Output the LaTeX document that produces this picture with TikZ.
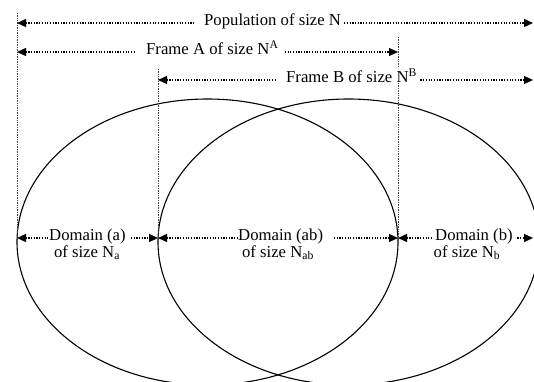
\documentclass[tikz,border=0pt]{standalone}
\usepackage{fontspec}
\setmainfont{Liberation Serif}
\usetikzlibrary{arrows.meta}
\newcommand\diagfont{\fontsize{16.7}{20}\selectfont}
\tikzset{
  darr/.style={line width=1.3pt, dash pattern=on 1.2pt off 1.5pt,
    {Triangle[length=9pt,width=8pt]}-{Triangle[length=9pt,width=8pt]}},
  vline/.style={line width=0.8pt, dash pattern=on 0.8pt off 0.9pt, black!75},
  lbl/.style={fill=white, inner xsep=0pt, inner ysep=1pt, font=\diagfont, anchor=mid west},
  sub/.style={inner sep=0pt, font=\diagfont, anchor=base},
  oval/.style={line width=1.1pt}
}
\begin{document}
\begin{tikzpicture}[x=1pt,y=-1pt]
\useasboundingbox (0,0) rectangle (534,381);
\clip (0,0) rectangle (534,381);
% ellipses
\draw[oval] (207.5,242) ellipse [x radius=190.5pt, y radius=143pt];
\draw[oval] (348.5,242) ellipse [x radius=190.5pt, y radius=143pt];
% coordinates
\coordinate (v1t) at (17,13);   \coordinate (v1b) at (17,240);
\coordinate (v2t) at (398,37);  \coordinate (v2b) at (398,240);
\coordinate (v3t) at (158,69);  \coordinate (v3b) at (158,240);
\coordinate (pL) at (17,23);  \coordinate (pR) at (533,23);
\coordinate (aL) at (17,52);  \coordinate (aR) at (398,52);
\coordinate (bL) at (158,80); \coordinate (bR) at (533,80);
\coordinate (d1) at (17,238); \coordinate (d2) at (158,238);
\coordinate (d3) at (398,238); \coordinate (d4) at (533,238);
% vertical guides
\draw[vline] (v1t) -- (v1b);
\draw[vline] (v2t) -- (v2b);
\draw[vline] (v3t) -- (v3b);
% arrows
\draw[darr] (pL) -- (pR);
\draw[darr] (aL) -- (aR);
\draw[darr] (bL) -- (bR);
\draw[darr] (d1) -- (d2);
\draw[darr] (d2) -- (d3);
\draw[darr] (d3) -- (d4);
% labels
\node[lbl] (popT) at (194,23) {\kern10pt Population of size N\kern3pt};
\node[lbl] (frA) at (136,52) {\kern10pt Frame A of size N\textsuperscript{A}\kern4pt};
\node[lbl] (frB) at (276,80) {\kern10pt Frame B of size N\textsuperscript{B}\kern3pt};
\node[lbl] (dA) at (49,238) {Domain (a)\kern4pt};
\node[lbl] (dAB) at (238,238) {Domain (ab)\kern11pt};
\node[lbl] (dB) at (434,238) {\kern1pt Domain (b)\kern3pt};
\node[sub] (sA) at (87,257) {of size N\textsubscript{a}};
\node[sub] (sAB) at (278,257) {of size N\textsubscript{ab}};
\node[sub] (sB) at (467,257) {of size N\textsubscript{b}};
\end{tikzpicture}
\end{document}
